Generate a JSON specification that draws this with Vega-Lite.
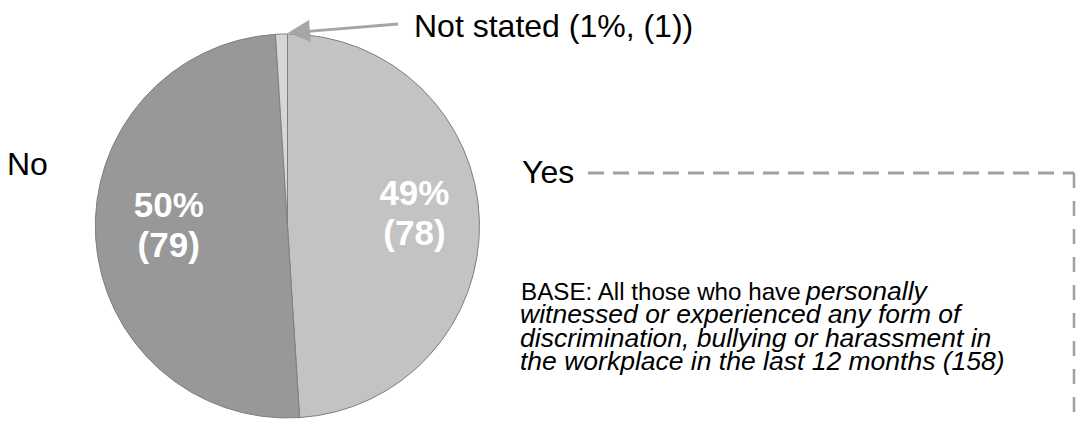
{
  "$schema": "https://vega.github.io/schema/vega-lite/v6.json",
  "width": 1076,
  "height": 422,
  "autosize": {"type": "fit", "contains": "padding"},
  "padding": 0,
  "background": "#ffffff",
  "config": {"view": {"stroke": null}, "font": "Liberation Sans"},
  "data": {"values": [
    {"category": "Yes", "pct": 49, "n": 78, "ord": 1},
    {"category": "No", "pct": 50, "n": 79, "ord": 2},
    {"category": "Not stated", "pct": 1, "n": 1, "ord": 3}
  ]},
  "encoding": {
    "x": {"datum": 287.5, "type": "quantitative", "scale": {"domain": [0, 1076], "nice": false, "zero": false}, "axis": null},
    "y": {"datum": 226.5, "type": "quantitative", "scale": {"domain": [0, 422], "nice": false, "zero": false, "reverse": true}, "axis": null}
  },
  "layer": [
    {
      "mark": {"type": "arc", "outerRadius": 192, "stroke": "#7f7f7f", "strokeWidth": 1},
      "encoding": {
        "theta": {"field": "pct", "type": "quantitative", "stack": true},
        "order": {"field": "ord", "type": "quantitative"},
        "color": {"field": "category", "type": "nominal", "scale": {"domain": ["Yes", "No", "Not stated"], "range": ["#c3c3c3", "#989898", "#d6d6d6"]}, "legend": null}
      }
    },
    {
      "transform": [{"calculate": "datum.pct >= 10 ? datum.pct + '%\\n(' + datum.n + ')' : ''", "as": "label"}],
      "mark": {"type": "text", "radius": 123, "dy": -28, "dx": 4, "fontSize": 35, "fontWeight": "bold", "color": "#ffffff", "lineBreak": "\n", "lineHeight": 40, "align": "center", "baseline": "middle"},
      "encoding": {
        "theta": {"field": "pct", "type": "quantitative", "stack": true},
        "order": {"field": "ord", "type": "quantitative"},
        "text": {"field": "label"}
      }
    },
    {
      "data": {"values": [{}]},
      "mark": {"type": "rule", "color": "#a6a6a6", "strokeWidth": 3},
      "encoding": {"x": {"datum": 398}, "y": {"datum": 24}, "x2": {"datum": 305}, "y2": {"datum": 31.7}}
    },
    {
      "data": {"values": [{}]},
      "mark": {"type": "point", "shape": "M-1,0L1,-1L1,1Z", "size": 484, "filled": true, "color": "#a6a6a6", "opacity": 1, "angle": 355.3},
      "encoding": {"x": {"datum": 299}, "y": {"datum": 32}}
    },
    {
      "data": {"values": [{}]},
      "mark": {"type": "text", "text": "Not stated (1%, (1))", "fontSize": 32, "align": "left", "baseline": "alphabetic", "color": "#000000"},
      "encoding": {"x": {"datum": 414}, "y": {"datum": 37}}
    },
    {
      "data": {"values": [{}]},
      "mark": {"type": "text", "text": "No", "fontSize": 32, "align": "left", "baseline": "alphabetic", "color": "#000000"},
      "encoding": {"x": {"datum": 7}, "y": {"datum": 175}}
    },
    {
      "data": {"values": [{}]},
      "mark": {"type": "text", "text": "Yes", "fontSize": 32, "align": "left", "baseline": "alphabetic", "color": "#000000"},
      "encoding": {"x": {"datum": 522}, "y": {"datum": 183.5}}
    },
    {
      "data": {"values": [{}]},
      "mark": {"type": "rule", "color": "#a0a0a0", "strokeWidth": 3, "strokeDash": [16, 9]},
      "encoding": {"x": {"datum": 588}, "x2": {"datum": 1074}, "y": {"datum": 173.5}}
    },
    {
      "data": {"values": [{}]},
      "mark": {"type": "rule", "color": "#a0a0a0", "strokeWidth": 2.5, "strokeDash": [15, 13]},
      "encoding": {"x": {"datum": 1074}, "y": {"datum": 173.5}, "y2": {"datum": 421}}
    },
    {
      "data": {"values": [{}]},
      "mark": {"type": "text", "text": "BASE: All those who have", "fontSize": 24.2, "align": "left", "baseline": "alphabetic", "color": "#000000"},
      "encoding": {"x": {"datum": 521}, "y": {"datum": 300.5}}
    },
    {
      "data": {"values": [{}]},
      "mark": {"type": "text", "text": "personally", "fontSize": 26.5, "fontStyle": "italic", "align": "left", "baseline": "alphabetic", "color": "#000000"},
      "encoding": {"x": {"datum": 806}, "y": {"datum": 300.5}}
    },
    {
      "data": {"values": [{}]},
      "mark": {"type": "text", "text": ["witnessed or experienced any form of", "discrimination, bullying or harassment in", "the workplace in the last 12 months (158)"], "fontSize": 26.5, "fontStyle": "italic", "lineHeight": 23.3, "align": "left", "baseline": "alphabetic", "color": "#000000"},
      "encoding": {"x": {"datum": 520}, "y": {"datum": 324}}
    }
  ]
}
